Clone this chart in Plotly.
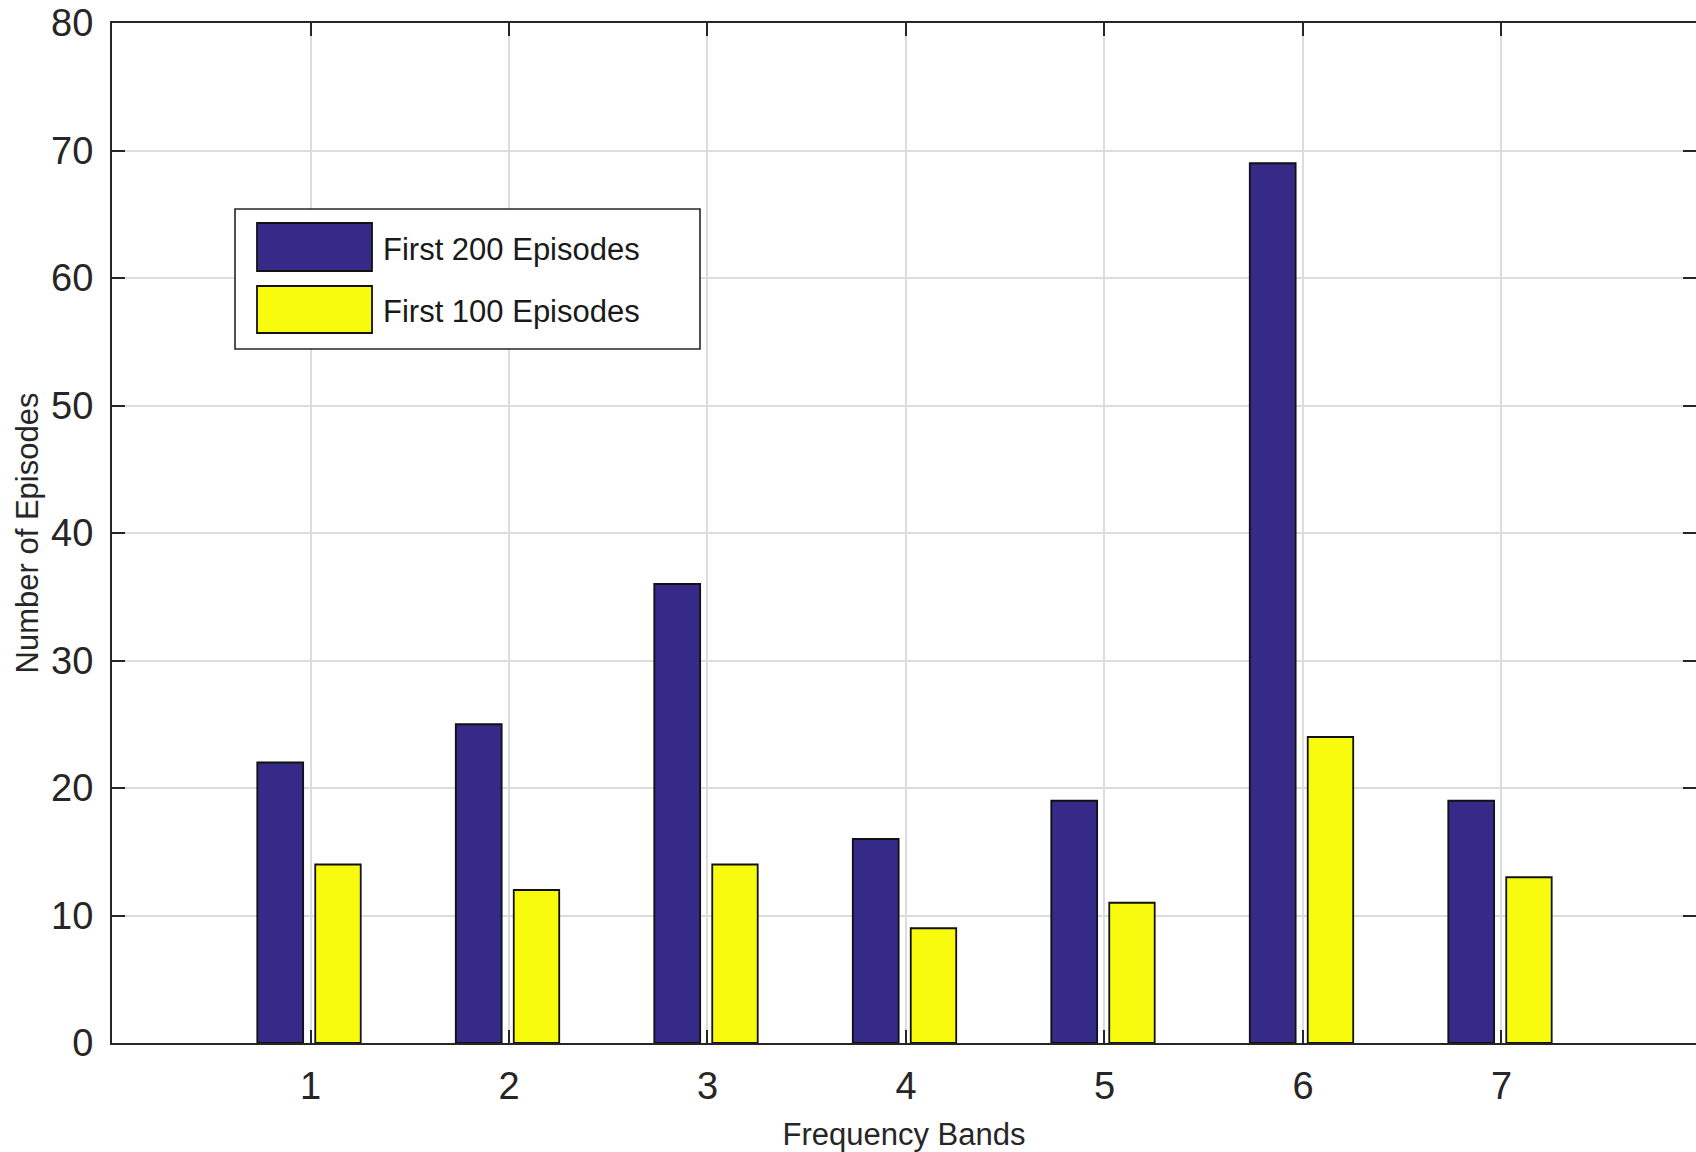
import plotly.graph_objects as go

# ---- data ----
categories = [1, 2, 3, 4, 5, 6, 7]
series_names = ["First 200 Episodes", "First 100 Episodes"]
first_200 = [22, 25, 36, 16, 19, 69, 19]
first_100 = [14, 12, 14, 9, 11, 24, 13]
y_tick_vals = [0, 10, 20, 30, 40, 50, 60, 70, 80]
x_tick_vals = [1, 2, 3, 4, 5, 6, 7]
x_title = "Frequency Bands"
y_title = "Number of Episodes"

# ---- style ----
BLUE = "#352A87"
YELLOW = "#F9FB0E"
AX = "#262626"
GRID = "#dcdcdc"
FONT = "Liberation Sans, Arial, Helvetica, sans-serif"

W, H = 1696, 1152
L, T, R, B = 112, 23, 0, 109
PW = W - L - R
PH = H - T - B


# screen-pixel -> paper coordinates
def pxx(x):
    return (x - L) / PW


def pxy(y):
    return (H - B - y) / PH


fig = go.Figure()
fig.add_trace(go.Bar(
    x=categories, y=first_200, name=series_names[0],
    marker=dict(color=BLUE, line=dict(color="#111111", width=1.8)),
    offset=-0.268, width=0.231, showlegend=False,
))
fig.add_trace(go.Bar(
    x=categories, y=first_100, name=series_names[1],
    marker=dict(color=YELLOW, line=dict(color="#111111", width=1.8)),
    offset=0.024, width=0.229, showlegend=False,
))
# invisible trace to host the right-hand mirrored ticks
fig.add_trace(go.Scatter(x=[None], y=[None], yaxis="y2", showlegend=False,
                         hoverinfo="skip", mode="markers"))

# ---- hand-built legend (MATLAB-style large swatches) ----
shapes = []
annotations = []
shapes.append(dict(type="rect", xref="paper", yref="paper",
                   x0=pxx(235), x1=pxx(700), y0=pxy(349), y1=pxy(209),
                   fillcolor="white", line=dict(color=AX, width=1.6), layer="above"))
sw_rows = [(223, 271), (286, 333)]
colors = [BLUE, YELLOW]
for (y0, y1), c, name in zip(sw_rows, colors, series_names):
    shapes.append(dict(type="rect", xref="paper", yref="paper",
                       x0=pxx(257), x1=pxx(372), y0=pxy(y1), y1=pxy(y0),
                       fillcolor=c, line=dict(color="#111111", width=1.8), layer="above"))
    annotations.append(dict(xref="paper", yref="paper", x=pxx(381), y=pxy((y0 + y1) / 2 + 2),
                            text=name, showarrow=False, xanchor="left", yanchor="middle",
                            font=dict(family=FONT, size=31, color="#1a1a1a")))

fig.update_layout(
    width=W, height=H,
    margin=dict(l=L, r=R, t=T, b=B, pad=0, autoexpand=False),
    paper_bgcolor="white", plot_bgcolor="white",
    barmode="group",
    font=dict(family=FONT, color=AX),
    shapes=shapes, annotations=annotations,
    xaxis=dict(
        range=[0, 7.98], tickvals=x_tick_vals, ticktext=[str(v) for v in x_tick_vals],
        ticks="inside", ticklen=13, tickwidth=2, tickcolor=AX,
        showline=True, linecolor=AX, linewidth=2, mirror="ticks",
        showgrid=True, gridcolor=GRID, gridwidth=1.5, zeroline=False,
        tickfont=dict(family=FONT, size=38, color=AX),
        ticklabelstandoff=8, ticklabeloverflow="allow", automargin=False,
        title=dict(text=x_title, font=dict(family=FONT, size=31, color=AX), standoff=18),
    ),
    yaxis=dict(
        range=[0, 80], tickvals=y_tick_vals,
        ticks="inside", ticklen=13, tickwidth=2, tickcolor=AX,
        showline=True, linecolor=AX, linewidth=2, mirror=False,
        showgrid=True, gridcolor=GRID, gridwidth=1.5, zeroline=False,
        tickfont=dict(family=FONT, size=38, color=AX),
        ticklabelstandoff=9, ticklabeloverflow="allow", automargin=False,
        title=dict(text=y_title, font=dict(family=FONT, size=31, color=AX), standoff=3),
    ),
    yaxis2=dict(
        overlaying="y", side="right", range=[0, 80], tickvals=y_tick_vals,
        ticks="inside", ticklen=13, tickwidth=2, tickcolor=AX,
        showline=False, showgrid=False, zeroline=False, showticklabels=False,
        automargin=False,
    ),
)

fig.write_html(
    "out.html",
    config={"displayModeBar": False},
    post_script="document.body.style.margin='0px';document.body.style.overflow='hidden';",
)
